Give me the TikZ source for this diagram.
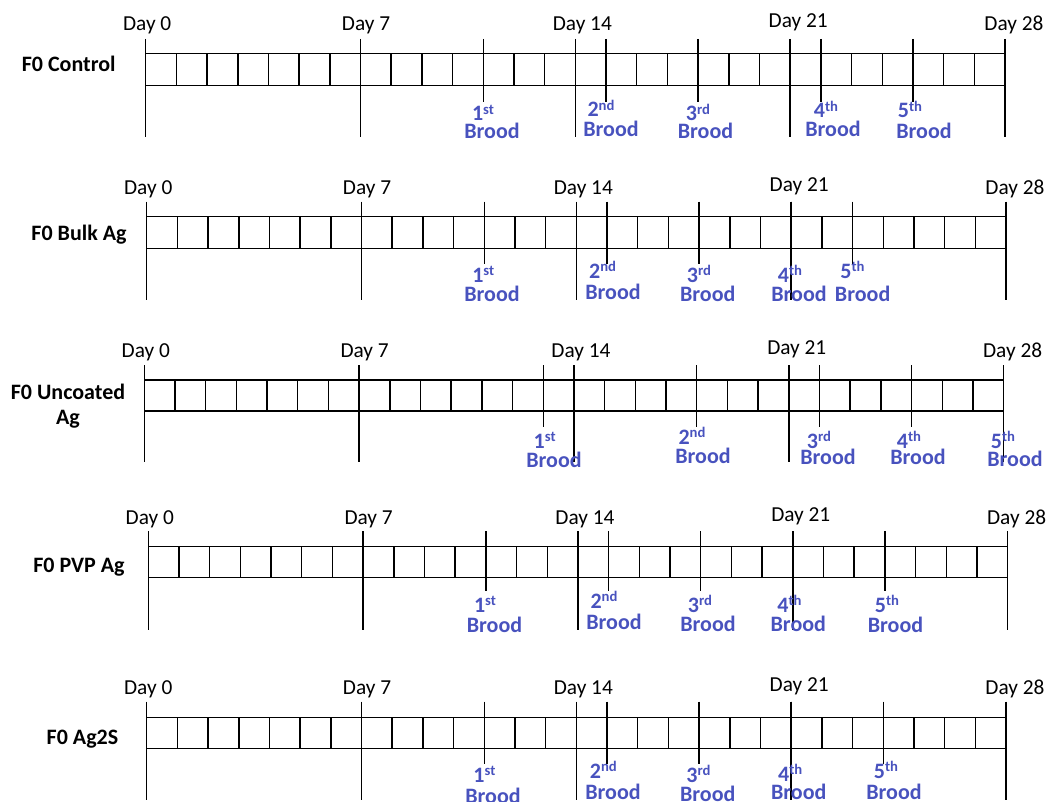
\documentclass[tikz,border=0pt]{standalone}
\usepackage{fontspec}
\setmainfont{Carlito}
\definecolor{broodblue}{RGB}{72,82,190}
\tikzset{
  tline/.style={line width=1.1pt, black},
  daylbl/.style={font=\fontsize{16}{19}\selectfont, anchor=base, inner sep=0pt},
  rowlbl/.style={font=\bfseries\fontsize{16.5}{18.75}\selectfont, align=center, inner sep=0pt},
  ordlbl/.style={font=\bfseries\fontsize{16.5}{20}\selectfont, text=broodblue, anchor=base, inner sep=0pt},
  broodlbl/.style={font=\bfseries\fontsize{16.5}{20}\selectfont, text=broodblue, anchor=base, inner sep=0pt}
}
\newcommand{\ordsup}[1]{\raisebox{4.6pt}{\fontsize{11}{11}\selectfont #1}}
% #1 row name, #2 x0, #3 box top, #4 box height, #5 tick top, #6 brood tick bottom, #7 day line bottom, #8 brood days
\newcommand{\timeline}[8]{%
  \pgfmathsetmacro{\cw}{859.3/28}
  \draw[tline] (#2,#3) rectangle ++(859.3,#4);
  \foreach \i in {1,...,27} {\draw[tline] ({#2+\i*\cw},#3) -- ++(0,#4);}
  \foreach \d in {0,7,14,21,28} {\draw[tline] ({#2+\d*\cw},#5) -- ({#2+\d*\cw},#7);}
  \foreach \d in {#8} {\draw[tline] ({#2+\d*\cw},#5) -- ({#2+\d*\cw},#6);}
  \foreach \d/\dx/\dy in {0/1.5/0, 7/5.5/0, 14/7/0, 21/8/-3.2, 28/9/0}
    {\node[daylbl] (#1d\d) at ({#2+\d*\cw+\dx},{#3-22.4+\dy}) {Day \d};}
}
% #1 name, #2 ordinal, #3 ord x, #4 ord base, #5 brood x, #6 brood base
\newcommand{\brood}[6]{%
  \node[ordlbl] (#1o) at (#3,#4) {#2};
  \node[broodlbl] (#1b) at (#5,#6) {Brood};
}
\begin{document}
\begin{tikzpicture}[x=0.75pt,y=-0.75pt]
\useasboundingbox (0,0) rectangle (1049,802);

% Row 1: F0 Control
\node[rowlbl, anchor=base] (lab1) at (68.7,72) {F0 Control};
\timeline{ra}{145.7}{53.3}{32.4}{39}{102}{137}{11,15,18,22,25}
\brood{ra1}{1\ordsup{st}}{483}{121}{492}{139}
\brood{ra2}{2\ordsup{nd}}{601}{117}{611}{137}
\brood{ra3}{3\ordsup{rd}}{698}{121}{705.5}{139}
\brood{ra4}{4\ordsup{th}}{826}{118}{833}{137}
\brood{ra5}{5\ordsup{th}}{910}{118}{924}{139}

% Row 2: F0 Bulk Ag
\node[rowlbl, anchor=base] (lab2) at (79,241) {F0 Bulk Ag};
\timeline{rb}{146.7}{216.7}{31.6}{201.7}{264}{300}{11,15,18,21,23}
\brood{rb1}{1\ordsup{st}}{483.3}{282}{492}{301}
\brood{rb2}{2\ordsup{nd}}{602.6}{278}{613}{300}
\brood{rb3}{3\ordsup{rd}}{699}{282}{707.7}{301}
\brood{rb4}{4\ordsup{th}}{790}{282}{799}{301}
\brood{rb5}{5\ordsup{th}}{852.4}{278}{862.6}{301}

% Row 3: F0 Uncoated Ag
\node[rowlbl] (lab3) at (68,406) {F0 Uncoated\\Ag};
\timeline{rc}{144.3}{380}{31}{365}{427}{462}{13,18,22,25,28}
\brood{rc1}{1\ordsup{st}}{544.7}{448}{554}{467}
\brood{rc2}{2\ordsup{nd}}{692}{444}{703}{463}
\brood{rc3}{3\ordsup{rd}}{819}{448}{828}{464}
\brood{rc4}{4\ordsup{th}}{909}{448}{918}{464}
\brood{rc5}{5\ordsup{th}}{1003}{448}{1015}{466}

% Row 4: F0 PVP Ag
\node[rowlbl, anchor=base] (lab4) at (79,572.7) {F0 PVP Ag};
\timeline{rd}{148.3}{546.7}{31}{531}{591}{630}{11,15,18,21,24}
\brood{rd1}{1\ordsup{st}}{485}{612}{494.5}{632}
\brood{rd2}{2\ordsup{nd}}{604}{608}{614}{629}
\brood{rd3}{3\ordsup{rd}}{700}{612}{708}{631}
\brood{rd4}{4\ordsup{th}}{789.5}{612}{798.3}{631}
\brood{rd5}{5\ordsup{th}}{887}{612}{895.5}{632}

% Row 5: F0 Ag2S
\node[rowlbl, anchor=base] (lab5) at (82.5,744) {F0 Ag2S};
\timeline{re}{146.7}{717.3}{31}{701.7}{764}{800}{11,15,18,21,24}
\brood{re1}{1\ordsup{st}}{484.4}{782}{493}{803}
\brood{re2}{2\ordsup{nd}}{603.3}{778}{613}{799}
\brood{re3}{3\ordsup{rd}}{698.4}{782}{707.7}{801}
\brood{re4}{4\ordsup{th}}{790.2}{781}{798.7}{799}
\brood{re5}{5\ordsup{th}}{886}{778}{894}{799}
\end{tikzpicture}
\end{document}
